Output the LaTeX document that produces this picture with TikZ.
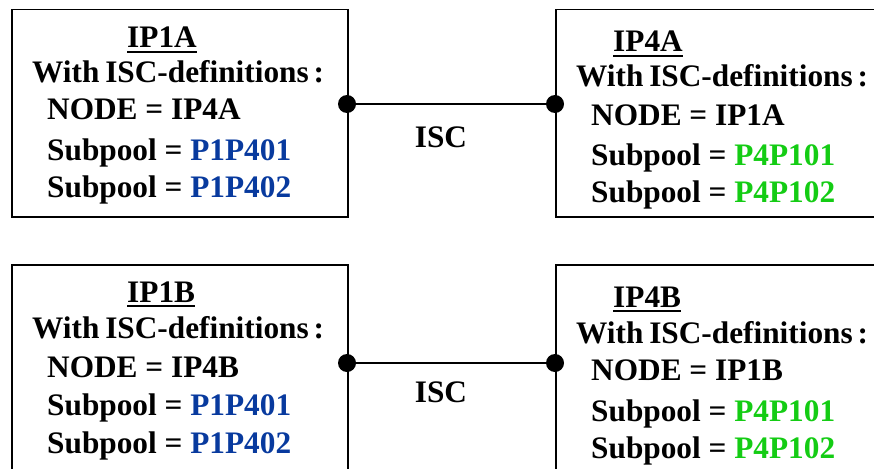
\documentclass[tikz,border=0pt]{standalone}
\usepackage{fontspec}
\setmainfont{Liberation Serif}
\definecolor{poolblue}{RGB}{8,58,158}
\definecolor{poolgreen}{RGB}{20,204,20}
\tikzset{
  box/.style={draw, line width=1.5pt, rectangle, inner sep=0pt},
  txt/.style={anchor=base west, inner sep=0pt, font=\fontsize{31.3}{36}\selectfont\bfseries},
  head/.style={txt},
  uline/.style={line width=1.8pt},
  link/.style={line width=1.5pt},
  dot/.style={circle, fill=black, inner sep=0pt, minimum size=18pt},
}
\begin{document}
\begin{tikzpicture}[x=1pt,y=-1pt]
\useasboundingbox (0,0) rectangle (874,468);
\clip (0,0) rectangle (874,468);
% boxes
\node[box, minimum width=336pt, minimum height=207pt, anchor=north west] (b1a) at (11,9) {};
\node[box, minimum width=360pt, minimum height=207pt, anchor=north west] (b4a) at (555,9) {};
\node[box, minimum width=336pt, minimum height=260pt, anchor=north west] (b1b) at (11,264) {};
\node[box, minimum width=360pt, minimum height=260pt, anchor=north west] (b4b) at (555,264) {};
% texts box 1A
\node[head] (h1a) at (127,48) {IP1A};
\draw[uline] ([yshift=-4pt]h1a.base west) -- ([yshift=-4pt]h1a.base east);
\node[txt] (w1a) at (32,83) {With\kern-2pt{} ISC-definitions\kern-3pt{} :};
\node[txt] (n1a) at (47,120) {NODE = IP4A};
\node[txt] (s1a1) at (47,160) {Subpool = \textcolor{poolblue}{P1P401}};
\node[txt] (s1a2) at (47,197) {Subpool = \textcolor{poolblue}{P1P402}};
% texts box 4A
\node[head] (h4a) at (613,52) {IP4A};
\draw[uline] ([yshift=-4pt]h4a.base west) -- ([yshift=-4pt]h4a.base east);
\node[txt] (w4a) at (576,87) {With\kern-2pt{} ISC-definitions\kern-3pt{} :};
\node[txt] (n4a) at (591,125) {NODE = IP1A};
\node[txt] (s4a1) at (591,165) {Subpool = \textcolor{poolgreen}{P4P101}};
\node[txt] (s4a2) at (591,202) {Subpool = \textcolor{poolgreen}{P4P102}};
% texts box 1B
\node[head] (h1b) at (127,302) {IP1B};
\draw[uline] ([yshift=-4pt]h1b.base west) -- ([yshift=-4pt]h1b.base east);
\node[txt] (w1b) at (32,338) {With\kern-2pt{} ISC-definitions\kern-3pt{} :};
\node[txt] (n1b) at (47,377) {NODE = IP4B};
\node[txt] (s1b1) at (47,415) {Subpool = \textcolor{poolblue}{P1P401}};
\node[txt] (s1b2) at (47,453) {Subpool = \textcolor{poolblue}{P1P402}};
% texts box 4B
\node[head] (h4b) at (613,307) {IP4B};
\draw[uline] ([yshift=-4pt]h4b.base west) -- ([yshift=-4pt]h4b.base east);
\node[txt] (w4b) at (576,343) {With\kern-2pt{} ISC-definitions\kern-3pt{} :};
\node[txt] (n4b) at (591,380) {NODE = IP1B};
\node[txt] (s4b1) at (591,421) {Subpool = \textcolor{poolgreen}{P4P101}};
\node[txt] (s4b2) at (591,458) {Subpool = \textcolor{poolgreen}{P4P102}};
% connectors
\node[dot] (pa1) at (347,104) {};
\node[dot] (pa2) at (555,104) {};
\draw[link] (pa1.center) -- (pa2.center);
\node[font=\fontsize{31.3}{36}\selectfont\bfseries, inner sep=0pt] (isca) at (441,137) {ISC};
\node[dot] (pb1) at (347,363) {};
\node[dot] (pb2) at (555,363) {};
\draw[link] (pb1.center) -- (pb2.center);
\node[font=\fontsize{31.3}{36}\selectfont\bfseries, inner sep=0pt] (iscb) at (441,392) {ISC};
\end{tikzpicture}
\end{document}
